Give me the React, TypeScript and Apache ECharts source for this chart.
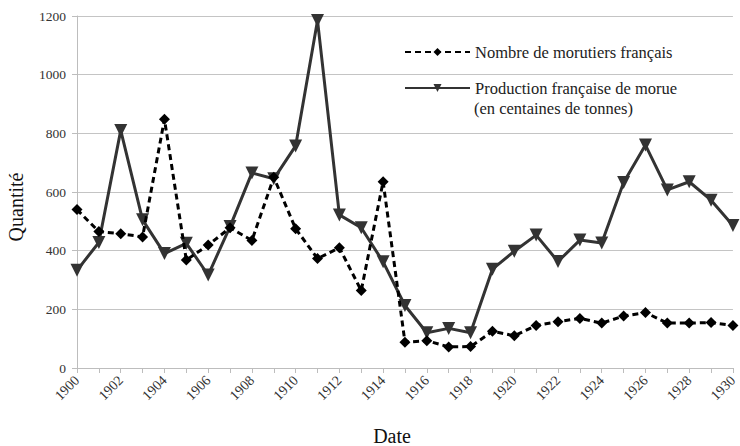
import React, { useEffect, useRef } from "react";
import * as echarts from "echarts";

const years: string[] = [
  "1900", "1901", "1902", "1903", "1904", "1905", "1906", "1907", "1908", "1909",
  "1910", "1911", "1912", "1913", "1914", "1915", "1916", "1917", "1918", "1919",
  "1920", "1921", "1922", "1923", "1924", "1925", "1926", "1927", "1928", "1929", "1930",
];

const morutiers: number[] = [
  540, 465, 458, 447, 848, 368, 419, 478, 435, 650,
  475, 373, 410, 264, 635, 88, 93, 72, 73, 125,
  110, 145, 158, 169, 153, 177, 189, 153, 153, 155, 145,
];

const production: number[] = [
  333, 428, 810, 505, 390, 425, 317, 482, 665, 645,
  757, 1185, 522, 478, 362, 213, 120, 135, 120, 337,
  398, 453, 363, 436, 426, 632, 760, 607, 635, 572, 486,
];

const seriesNames: string[] = [
  "Nombre de morutiers français",
  "Production française de morue",
];
const legendSubLine = "(en centaines de tonnes)";
const yTitle = "Quantité";
const xTitle = "Date";

const FONT = "Liberation Serif";

export default function App() {
  const ref = useRef<HTMLDivElement>(null);

  useEffect(() => {
    if (!ref.current) return;
    const chart = echarts.init(ref.current, undefined, { renderer: "svg" });
    const legendText = { fontFamily: FONT, fontSize: 16.5, color: "#222", lineHeight: 18 };
    chart.setOption({
      animation: false,
      backgroundColor: "#ffffff",
      textStyle: { fontFamily: FONT },
      grid: { left: 77, right: 3, top: 16, bottom: 78, containLabel: false },
      legend: [
        {
          data: [seriesNames[0]],
          orient: "vertical",
          left: 404,
          top: 43,
          padding: 0,
          itemWidth: 65,
          itemHeight: 10,
          itemGap: 4,
          textStyle: legendText,
        },
        {
          data: [seriesNames[1]],
          orient: "vertical",
          left: 404,
          top: 79,
          padding: 0,
          itemWidth: 65,
          itemHeight: 10,
          textStyle: legendText,
        },
      ],
      xAxis: {
        type: "category",
        data: years,
        boundaryGap: false,
        axisLine: { show: true, lineStyle: { color: "#bdbdbd", width: 1 } },
        axisTick: { show: true, interval: 0, length: 5, lineStyle: { color: "#bdbdbd" } },
        axisLabel: {
          interval: 1,
          rotate: 45,
          fontFamily: FONT,
          fontSize: 14,
          color: "#333",
          margin: 10,
        },
        splitLine: { show: false },
      },
      yAxis: {
        type: "value",
        min: 0,
        max: 1200,
        interval: 200,
        axisLine: { show: true, lineStyle: { color: "#bdbdbd", width: 1 } },
        axisTick: { show: true, length: 5, lineStyle: { color: "#bdbdbd" } },
        axisLabel: {
          fontFamily: FONT,
          fontSize: 13.5,
          color: "#333",
          margin: 11,
          formatter: (v: number) => String(v),
        },
        splitLine: { show: true, lineStyle: { color: "#c4c4c4", width: 1 } },
      },
      graphic: [
        {
          type: "text",
          x: 16,
          y: 207,
          rotation: Math.PI / 2,
          style: {
            text: yTitle,
            font: `20px ${FONT}`,
            fill: "#111",
            align: "center",
            verticalAlign: "middle",
          },
        },
        {
          type: "text",
          x: 392,
          y: 436,
          style: {
            text: xTitle,
            font: `20px ${FONT}`,
            fill: "#111",
            align: "center",
            verticalAlign: "middle",
          },
        },
        {
          type: "text",
          x: 474,
          y: 108,
          style: {
            text: legendSubLine,
            font: `16.5px ${FONT}`,
            fill: "#222",
            align: "left",
            verticalAlign: "middle",
          },
        },
      ],
      series: [
        {
          name: seriesNames[0],
          type: "line",
          data: morutiers,
          symbol: "diamond",
          symbolSize: 11,
          itemStyle: { color: "#000" },
          lineStyle: { color: "#000", width: 3, type: [6, 4] },
          z: 3,
        },
        {
          name: seriesNames[1],
          type: "line",
          data: production,
          symbol: "triangle",
          symbolRotate: 180,
          symbolSize: 13,
          itemStyle: { color: "#333" },
          lineStyle: { color: "#333", width: 3 },
          z: 2,
        },
      ],
    });
    return () => chart.dispose();
  }, []);

  return (
    <div
      ref={ref}
      style={{ position: "absolute", left: 0, top: 0, width: 740, height: 446 }}
    />
  );
}
